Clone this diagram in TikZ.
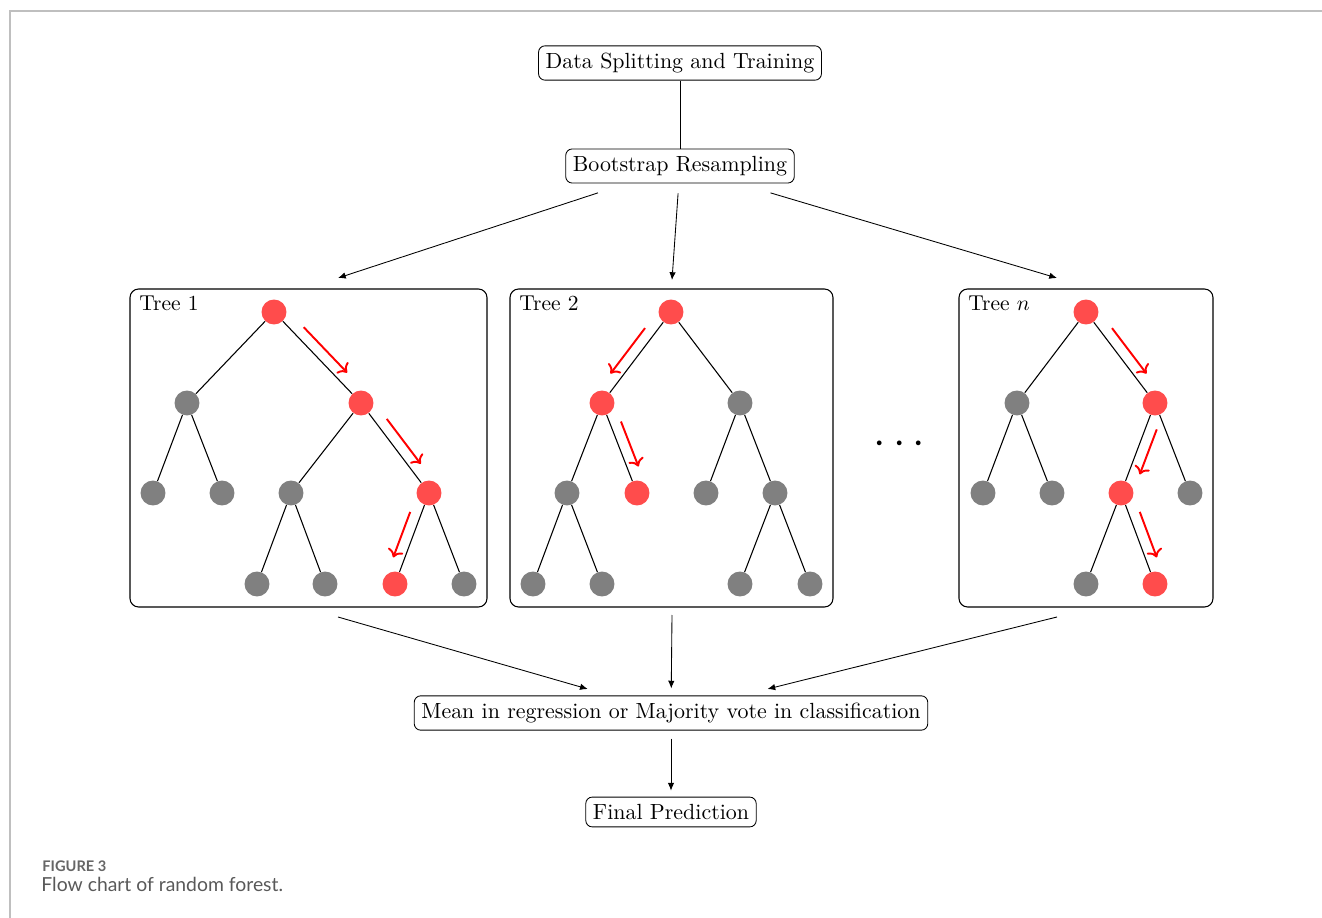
\documentclass[tikz,border=0pt]{standalone}
\usepackage{amsmath}
\usepackage{fontspec}
\newfontfamily\capfont{Lato}
\usetikzlibrary{calc}
\usetikzlibrary{arrows.meta}

\tikzset{
  box/.style={draw, rounded corners=3pt, font=\fontsize{10.2}{12.2}\selectfont},
  treebox/.style={draw, rounded corners=4pt, line width=0.5pt},
  gnode/.style={circle, fill=gray, minimum size=11.6pt, inner sep=0pt},
  rnode/.style={circle, fill=red!70, minimum size=11.6pt, inner sep=0pt},
  walk/.style={->, red, line width=0.9pt},
  link/.style={line width=0.5pt},
  flow/.style={-{Latex[length=3.6pt,width=3pt]}},
}
% red arrow beside an edge: from, to, side offset
\newcommand{\walk}[3]{\draw[walk] ($(#1)!0.25!(#2)!#3!90:(#2)$) -- ($(#1)!0.75!(#2)!#3!90:(#2)$);}

\begin{document}
\begin{tikzpicture}[x=0.465pt, y=-0.465pt]
    \useasboundingbox (0,0) rectangle (1322,918);
    \draw[black!25, line width=0.9pt] (10,918) -- (10,11) -- (1322,11);

    \node[box] (data) at (680, 63) {Data Splitting and Training};
    \node[box] (boot) at (680,166) {Bootstrap Resampling};
    \node[box] (mean) at (671,713) {Mean in regression or Majority vote in classification};
    \node[box] (final) at (671,812) {Final Prediction};

    \coordinate (in1)  at ( 338,278);
    \coordinate (in2)  at ( 672,280);
    \coordinate (in3)  at (1057,278);
    \coordinate (out1) at ( 338,617);
    \coordinate (out2) at ( 672,615);
    \coordinate (out3) at (1057,617);

    \draw (data) -- (boot);
    \draw[flow] ($(boot)!0.24!(in1)$) -- (in1);
    \draw[flow] ($(boot)!0.24!(in2)$) -- (in2);
    \draw[flow] ($(boot)!0.24!(in3)$) -- (in3);
    \draw[flow] (out1) -- ($(out1)!0.75!(mean)$);
    \draw[flow] (out2) -- ($(out2)!0.75!(mean)$);
    \draw[flow] (out3) -- ($(out3)!0.75!(mean)$);
    \draw[flow, shorten <=3.7pt, shorten >=2.8pt] (mean) -- (final);

    % Tree 1
    \draw[treebox] (130,289) rectangle (487,607);
    \node[anchor=base west, inner sep=0pt] (lab1) at (139,311) {Tree 1};
    \node[rnode] (r1)   at (274,312) {};
    \node[gnode] (a1)   at (187,403) {};
    \node[rnode] (b1)   at (361,403) {};
    \node[gnode] (aa1)  at (153,493) {};
    \node[gnode] (ab1)  at (222,493) {};
    \node[gnode] (ba1)  at (291,493) {};
    \node[rnode] (bb1)  at (429,493) {};
    \node[gnode] (baa1) at (257,584) {};
    \node[gnode] (bab1) at (325,584) {};
    \node[rnode] (bba1) at (395,584) {};
    \node[gnode] (bbb1) at (464,584) {};
    \draw[link] (r1) edge (a1) edge (b1)
      (a1) edge (aa1) edge (ab1)
      (b1) edge (ba1) edge (bb1)
      (ba1) edge (baa1) edge (bab1)
      (bb1) edge (bba1) edge (bbb1);
    \walk{r1}{b1}{5.1pt}
    \walk{b1}{bb1}{5.1pt}
    \walk{bb1}{bba1}{-5.1pt}

    % Tree 2
    \draw[treebox] (510,289) rectangle (833,607);
    \node[anchor=base west, inner sep=0pt] (lab2) at (519,311) {Tree 2};
    \node[rnode] (r2)   at (671,312) {};
    \node[rnode] (a2)   at (602,403) {};
    \node[gnode] (b2)   at (740,403) {};
    \node[gnode] (aa2)  at (567,493) {};
    \node[rnode] (ab2)  at (637,493) {};
    \node[gnode] (ba2)  at (706,493) {};
    \node[gnode] (bb2)  at (775,493) {};
    \node[gnode] (aaa2) at (533,584) {};
    \node[gnode] (aab2) at (602,584) {};
    \node[gnode] (bba2) at (740,584) {};
    \node[gnode] (bbb2) at (810,584) {};
    \draw[link] (r2) edge (a2) edge (b2)
      (a2) edge (aa2) edge (ab2)
      (b2) edge (ba2) edge (bb2)
      (aa2) edge (aaa2) edge (aab2)
      (bb2) edge (bba2) edge (bbb2);
    \walk{r2}{a2}{-5.1pt}
    \walk{a2}{ab2}{5.1pt}

    \node (dots) at (903,445) {\huge$\cdots$};

    % Tree n
    \draw[treebox] (959,289) rectangle (1213,607);
    \node[anchor=base west, inner sep=0pt] (lab3) at (968,311) {Tree $n$};
    \node[rnode] (r3)   at (1086,312) {};
    \node[gnode] (a3)   at (1017,403) {};
    \node[rnode] (b3)   at (1155,403) {};
    \node[gnode] (aa3)  at ( 983,493) {};
    \node[gnode] (ab3)  at (1052,493) {};
    \node[rnode] (ba3)  at (1121,493) {};
    \node[gnode] (bb3)  at (1190,493) {};
    \node[gnode] (baa3) at (1086,584) {};
    \node[rnode] (bab3) at (1155,584) {};
    \draw[link] (r3) edge (a3) edge (b3)
      (a3) edge (aa3) edge (ab3)
      (b3) edge (ba3) edge (bb3)
      (ba3) edge (baa3) edge (bab3);
    \walk{r3}{b3}{5.1pt}
    \walk{b3}{ba3}{5.1pt}
    \walk{ba3}{bab3}{5.1pt}

    \node[font=\capfont\bfseries\fontsize{6.8}{8}\selectfont, text=black!60, anchor=base west, inner sep=0pt] (fig) at (42,871) {FIGURE 3};
    \node[font=\capfont\fontsize{9}{11}\selectfont, text=black!65, anchor=base west, inner sep=0pt] (cap) at (41,891) {Flow chart of random forest.};
\end{tikzpicture}
\end{document}
